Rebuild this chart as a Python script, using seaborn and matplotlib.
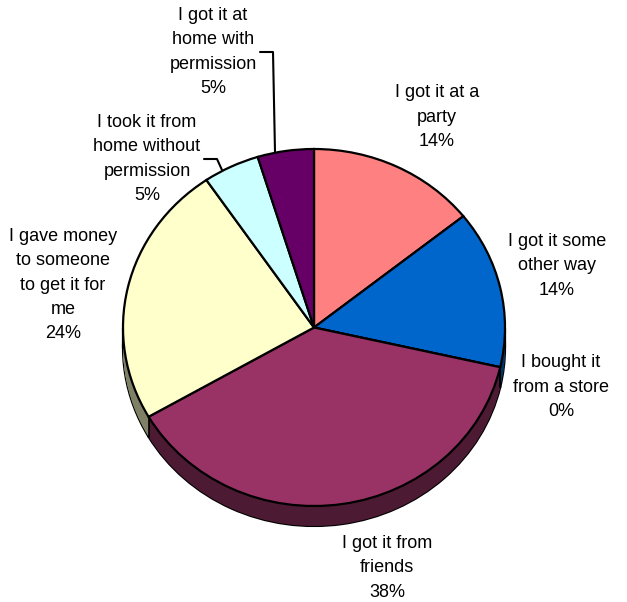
import numpy as np
import matplotlib
matplotlib.use("Agg")
import matplotlib.pyplot as plt
import seaborn as sns

# ---- data ----
categories = [
    "I got it at a\nparty",
    "I got it some\nother way",
    "I bought it\nfrom a store",
    "I got it from\nfriends",
    "I gave money\nto someone\nto get it for\nme",
    "I took it from\nhome without\npermission",
    "I got it at\nhome with\npermission",
]
counts = [3, 3, 0, 8, 5, 1, 1]
colors = ["#FF8080", "#0066CC", "#CCCCFF", "#993366", "#FFFFCC", "#CCFFFF", "#660066"]

# label centres in pixels (style / layout)
label_px = [(437, 117), (557, 266), (561, 387), (387, 568), (63, 285), (147, 159), (213, 52)]

sns.set_theme(style="white")
plt.rcParams['font.family'] = ['Liberation Sans', 'DejaVu Sans']

W, H = 627, 602
CX, CY = 314, 327.5
RX, RY = 191, 178.5
DEPTH = 20 / RY

fig = plt.figure(figsize=(W / 100, H / 100), dpi=100)
ax = fig.add_axes([0, 0, 1, 1])

vals = np.array(counts, dtype=float)
pct = vals / vals.sum() * 100

def dark(c):
    r, g, b = matplotlib.colors.to_rgb(c)
    return (r * 0.5, g * 0.5, b * 0.5)

dark_colors = [dark(c) for c in colors]

# side (3D depth): bottom outline then filled layers
ax.pie(vals, colors=dark_colors, startangle=90, counterclock=False,
       center=(0, -DEPTH), radius=1,
       wedgeprops=dict(edgecolor="black", linewidth=1.6))
for d in np.linspace(DEPTH, 0, 30):
    ax.pie(vals, colors=dark_colors, startangle=90, counterclock=False,
           center=(0, -d), radius=1, wedgeprops=dict(edgecolor="none", linewidth=0))

# vertical seams on the visible front side at wedge boundaries
cum = np.cumsum(vals) / vals.sum() * 360.0
for a in cum[:-1]:
    th = np.deg2rad(90 - a)
    x, y = np.cos(th), np.sin(th)
    if y < 0:
        ax.plot([x, x], [y, y - DEPTH], color="black", lw=1.2, zorder=5)
# side extremes
for x in (-1, 1):
    ax.plot([x, x], [0, -DEPTH], color="black", lw=1.6, zorder=5)

# top face
wedges, _ = ax.pie(vals, colors=colors, startangle=90, counterclock=False,
                   center=(0, 0), radius=1,
                   wedgeprops=dict(edgecolor="black", linewidth=1.6))
for w in wedges:
    w.set_zorder(6)

def to_data(px, py):
    return (px - CX) / RX, (CY - py) / RY

# labels
for cat, p, (px, py) in zip(categories, pct, label_px):
    x, y = to_data(px, py)
    ax.text(x, y, f"{cat}\n{p:.0f}%", ha="center", va="center",
            multialignment="center", fontsize=13, linespacing=1.55,
            color="black", zorder=10)

# leader lines
leaders = [
    [(260, 52), (273, 52), (275, 152)],
    [(204, 159), (217, 159), (222, 170)],
]
for pts in leaders:
    xs, ys = zip(*[to_data(a, b) for a, b in pts])
    ax.plot(xs, ys, color="black", lw=1.5, zorder=7)

ax.set_xlim(-CX / RX, (W - CX) / RX)
ax.set_ylim(-(H - CY) / RY, CY / RY)
ax.set_aspect("auto")
ax.axis("off")

fig.savefig("out.png", dpi=100, facecolor="white")
